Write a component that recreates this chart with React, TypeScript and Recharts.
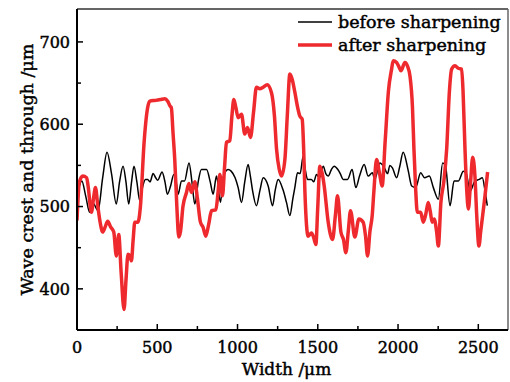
import React from 'react';
import { LineChart, Line, XAxis, YAxis, ReferenceLine } from 'recharts';

const beforeX = [10, 30, 55, 79, 100, 131, 160, 187, 215, 245, 265, 287, 305, 322, 340, 355, 373, 391, 410, 426, 440, 455, 474, 490, 503, 530, 548, 563, 583, 603, 618, 630, 651, 670, 698, 716, 734, 755, 775, 807, 830, 848, 869, 894, 910, 941, 960, 985, 1004, 1025, 1045, 1066, 1080, 1094, 1118, 1140, 1160, 1191, 1218, 1235, 1253, 1284, 1305, 1326, 1345, 1357, 1374, 1390, 1409, 1422, 1436, 1460, 1475, 1492, 1510, 1534, 1550, 1565, 1585, 1602, 1625, 1640, 1658, 1685, 1714, 1737, 1760, 1789, 1814, 1840, 1855, 1887, 1910, 1935, 1949, 1965, 1991, 2010, 2032, 2064, 2085, 2110, 2141, 2165, 2195, 2220, 2251, 2278, 2295, 2324, 2349, 2376, 2407, 2425, 2449, 2479, 2506, 2525, 2542, 2556];
const beforeY = [522, 531, 512, 493, 504, 495, 535, 566, 540, 503, 530, 549, 530, 503, 530, 549, 530, 507, 525, 533, 533, 530, 540, 535, 532, 542, 530, 515, 525, 539, 530, 515, 531, 531, 553, 530, 503, 530, 545, 545, 530, 515, 537, 505, 535, 545, 543, 535, 523, 505, 530, 551, 537, 519, 501, 520, 535, 525, 501, 520, 533, 520, 505, 489, 510, 523, 541, 540, 561, 545, 533, 533, 530, 539, 535, 549, 540, 537, 545, 549, 545, 540, 533, 533, 545, 523, 537, 551, 537, 541, 533, 553, 549, 540, 550, 547, 535, 548, 566, 543, 525, 523, 541, 535, 537, 523, 509, 553, 550, 501, 531, 531, 543, 540, 519, 531, 533, 535, 519, 501];

const afterX = [0, 15, 36, 60, 69, 90, 103, 115, 130, 145, 160, 175, 191, 210, 229, 245, 260, 275, 293, 305, 318, 330, 339, 350, 360, 380, 395, 418, 440, 453, 490, 520, 547, 565, 580, 588, 598, 609, 622, 634, 645, 660, 682, 697, 713, 734, 750, 769, 785, 802, 820, 838, 865, 880, 890, 906, 920, 931, 952, 965, 977, 990, 1004, 1025, 1045, 1062, 1081, 1100, 1118, 1139, 1160, 1185, 1212, 1230, 1243, 1260, 1274, 1295, 1310, 1326, 1340, 1357, 1375, 1388, 1403, 1412, 1420, 1440, 1461, 1475, 1488, 1500, 1513, 1528, 1540, 1565, 1592, 1610, 1623, 1644, 1660, 1675, 1690, 1704, 1731, 1756, 1783, 1797, 1810, 1825, 1839, 1850, 1866, 1885, 1901, 1920, 1940, 1960, 1970, 1991, 2005, 2018, 2043, 2060, 2074, 2090, 2099, 2110, 2120, 2141, 2157, 2172, 2188, 2200, 2213, 2225, 2240, 2251, 2267, 2285, 2303, 2320, 2334, 2355, 2375, 2396, 2405, 2417, 2428, 2438, 2452, 2465, 2479, 2490, 2504, 2515, 2527, 2540, 2558];
const afterY = [483, 530, 537, 535, 525, 493, 510, 523, 500, 480, 469, 475, 482, 475, 469, 440, 466, 420, 375, 410, 442, 440, 434, 460, 481, 481, 500, 578, 620, 628, 629, 630, 631, 628, 622, 620, 590, 557, 500, 463, 470, 500, 517, 528, 517, 530, 510, 481, 475, 464, 478, 495, 496, 520, 539, 513, 550, 578, 580, 610, 630, 620, 608, 612, 588, 596, 584, 615, 645, 643, 645, 648, 638, 610, 570, 545, 537, 557, 610, 661, 655, 639, 620, 610, 606, 570, 517, 464, 468, 462, 454, 500, 549, 540, 525, 481, 460, 490, 513, 469, 460, 444, 470, 495, 463, 485, 481, 465, 440, 470, 489, 520, 557, 540, 525, 580, 640, 667, 677, 675, 670, 665, 675, 670, 659, 620, 570, 520, 493, 493, 481, 490, 505, 495, 481, 485, 470, 452, 505, 530, 570, 640, 667, 671, 668, 667, 640, 570, 520, 497, 530, 560, 537, 490, 452, 470, 489, 510, 542];

const xTicks = [0, 250, 500, 750, 1000, 1250, 1500, 1750, 2000, 2250, 2500];
const yTicks = [400, 450, 500, 550, 600, 650, 700];
const seriesNames = ['before sharpening', 'after sharpening'];

const beforeData = beforeX.map((x, i) => ({ x, y: beforeY[i] }));
const afterData = afterX.map((x, i) => ({ x, y: afterY[i] }));

const FONT = 'DejaVu Serif';
const RED = '#ee2a2e';
const textStyle = { fontFamily: FONT, fill: '#000', stroke: '#000', strokeWidth: 0.45 } as const;

const XTick = (props: any) => {
  const { x, y, payload } = props;
  const major = payload.value % 500 === 0;
  return (
    <g>
      <line x1={x} x2={x} y1={y} y2={y - (major ? 6 : 4)} stroke="#000" strokeWidth={1.5} />
      {major && (
        <text x={x} y={y + 23} textAnchor="middle" fontSize={16} style={textStyle}>
          {payload.value}
        </text>
      )}
    </g>
  );
};

const YTick = (props: any) => {
  const { x, y, payload } = props;
  const major = payload.value % 100 === 0;
  return (
    <g>
      <line x1={x} x2={x + (major ? 6 : 4)} y1={y} y2={y} stroke="#000" strokeWidth={1.5} />
      {major && (
        <text x={x - 7} y={y} dy="0.36em" textAnchor="end" fontSize={16} style={textStyle}>
          {payload.value}
        </text>
      )}
    </g>
  );
};

const LegendBox = () => (
  <svg width={215} height={50} style={{ position: 'absolute', left: 298, top: 9, overflow: 'visible' }}>
    <line x1={0} x2={34} y1={13} y2={13} stroke="#000" strokeWidth={1.5} />
    <text x={40} y={13} dy="0.36em" fontSize={17.5} style={textStyle}>{seriesNames[0]}</text>
    <line x1={0} x2={34} y1={36} y2={36} stroke={RED} strokeWidth={3.5} />
    <text x={40} y={36} dy="0.36em" fontSize={17.5} style={textStyle}>{seriesNames[1]}</text>
  </svg>
);

export default function App() {
  return (
    <div style={{ position: 'absolute', left: 0, top: 0, width: 510, height: 382, background: '#fff' }}>
      <LineChart width={510} height={382} margin={{ top: 9, right: 2, bottom: 0, left: 0 }}>
        <XAxis
          dataKey="x"
          type="number"
          domain={[0, 2685]}
          ticks={xTicks}
          interval={0}
          height={52}
          tickSize={0}
          tickMargin={0}
          tick={<XTick />}
          axisLine={{ stroke: '#000', strokeWidth: 2 }}
          tickLine={false}
          allowDataOverflow
          label={{ value: 'Width /μm', position: 'insideBottom', offset: 7, dx: -6, style: { ...textStyle, fontSize: 17 } }}
        />
        <YAxis
          dataKey="y"
          type="number"
          domain={[350, 740]}
          ticks={yTicks}
          interval={0}
          width={77}
          tickSize={0}
          tickMargin={0}
          tick={<YTick />}
          axisLine={{ stroke: '#000', strokeWidth: 2 }}
          tickLine={false}
          allowDataOverflow
          label={{ value: 'Wave crest and through /μm', angle: -90, position: 'insideLeft', offset: 27, style: { ...textStyle, textAnchor: 'middle', fontSize: 17.5 } }}
        />
        <ReferenceLine y={740} stroke="#333" strokeWidth={1.5} ifOverflow="visible" />
        <ReferenceLine x={2685} stroke="#666" strokeWidth={1.5} ifOverflow="visible" />
        <Line
          data={beforeData}
          dataKey="y"
          name={seriesNames[0]}
          type="monotone"
          stroke="#000"
          strokeWidth={1.5}
          dot={false}
          isAnimationActive={false}
        />
        <Line
          data={afterData}
          dataKey="y"
          name={seriesNames[1]}
          type="monotone"
          stroke={RED}
          strokeWidth={3.5}
          dot={false}
          isAnimationActive={false}
        />
      </LineChart>
      <LegendBox />
    </div>
  );
}
